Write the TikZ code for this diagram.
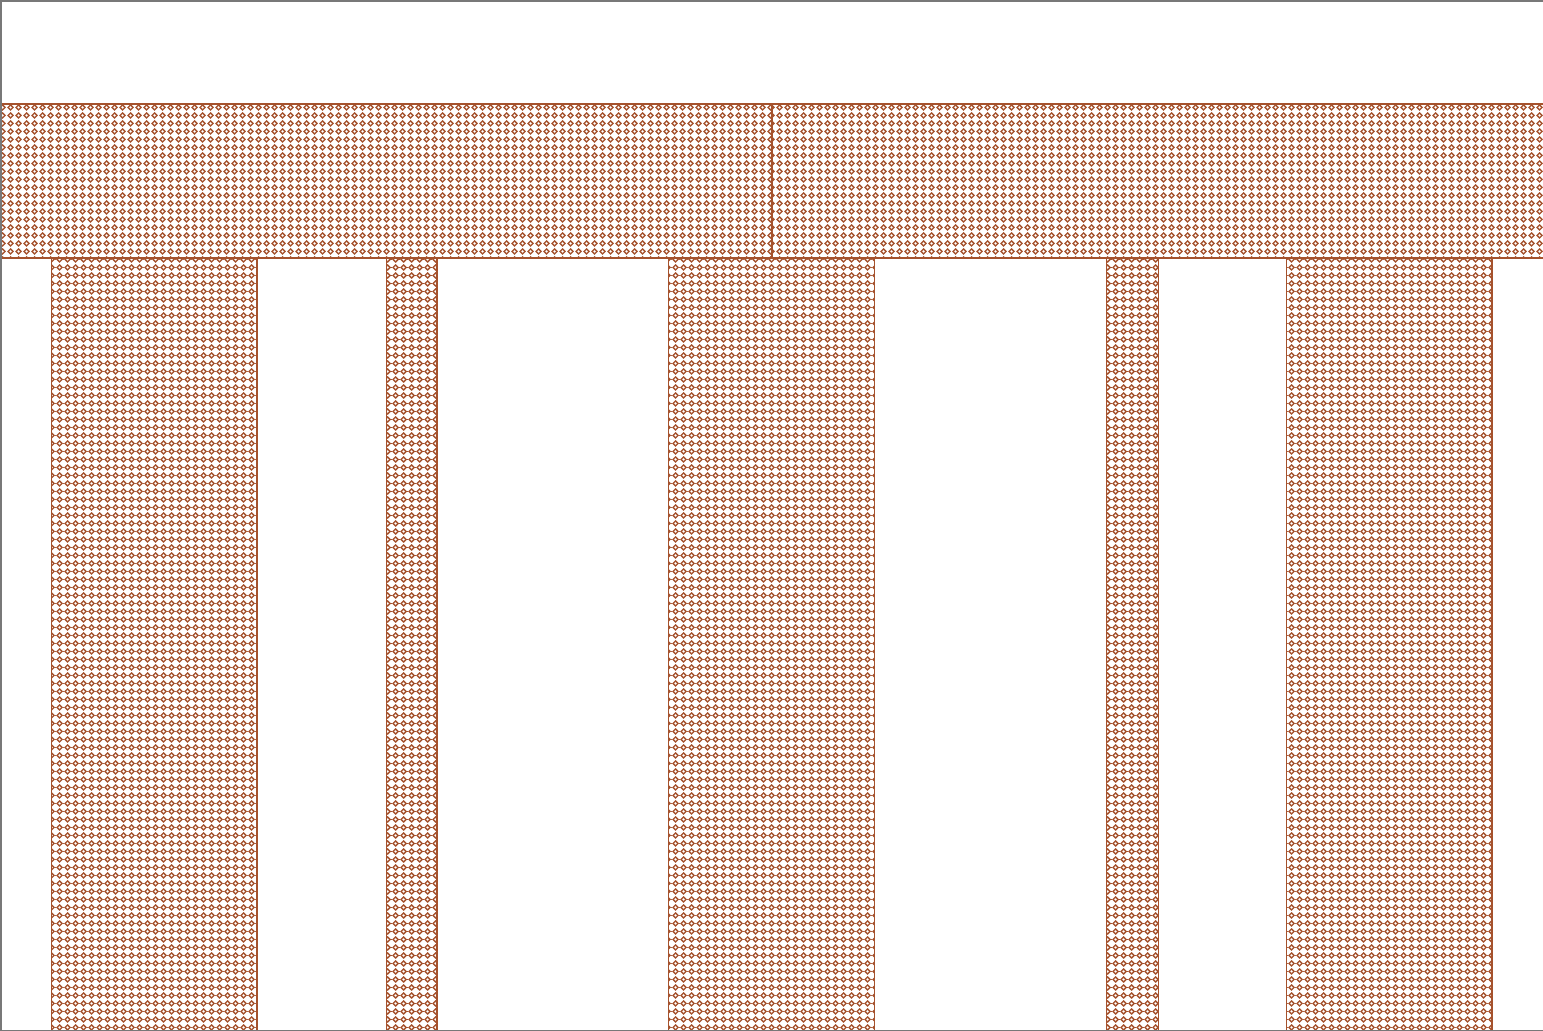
\documentclass[tikz,border=0pt]{standalone}
\usepackage{tikz}
\usetikzlibrary{patterns}
\definecolor{brick}{RGB}{165,82,45}
\definecolor{framegray}{RGB}{120,120,120}
\pgfdeclarepatterninherentlycolored{brickdiamonds}{\pgfpointorigin}{\pgfpoint{8pt}{8pt}}{\pgfpoint{8pt}{8pt}}{%
  \pgfsetstrokecolor{brick}%
  \pgfsetlinewidth{1.5pt}%
  \pgfpathmoveto{\pgfpoint{4pt}{1.2pt}}%
  \pgfpathlineto{\pgfpoint{6.8pt}{4pt}}%
  \pgfpathlineto{\pgfpoint{4pt}{6.8pt}}%
  \pgfpathlineto{\pgfpoint{1.2pt}{4pt}}%
  \pgfpathclose
  \pgfusepath{stroke}}
\tikzset{
  member/.style={draw=brick,line width=1.8pt,pattern=brickdiamonds}
}

\begin{document}
\begin{tikzpicture}[x=1pt,y=-1pt]
        \useasboundingbox (0,0) rectangle (1543,1031);
        % beam, two spans
        \foreach \xa/\xb in {0/772,772/1545}
          \draw[member] (\xa,104) rectangle (\xb,258);
        % columns
        \foreach \xa/\xb in {51.5/257,386.5/437,668.5/874.5,1106.5/1158.5,1286.5/1492}
          \draw[member] (\xa,258) rectangle (\xb,1030.5);
        % frame
        \draw[framegray,line width=1.5pt] (1543,0.75) -- (0.75,0.75) -- (0.75,1030.25) -- (1543,1030.25);
      \end{tikzpicture}
\end{document}
